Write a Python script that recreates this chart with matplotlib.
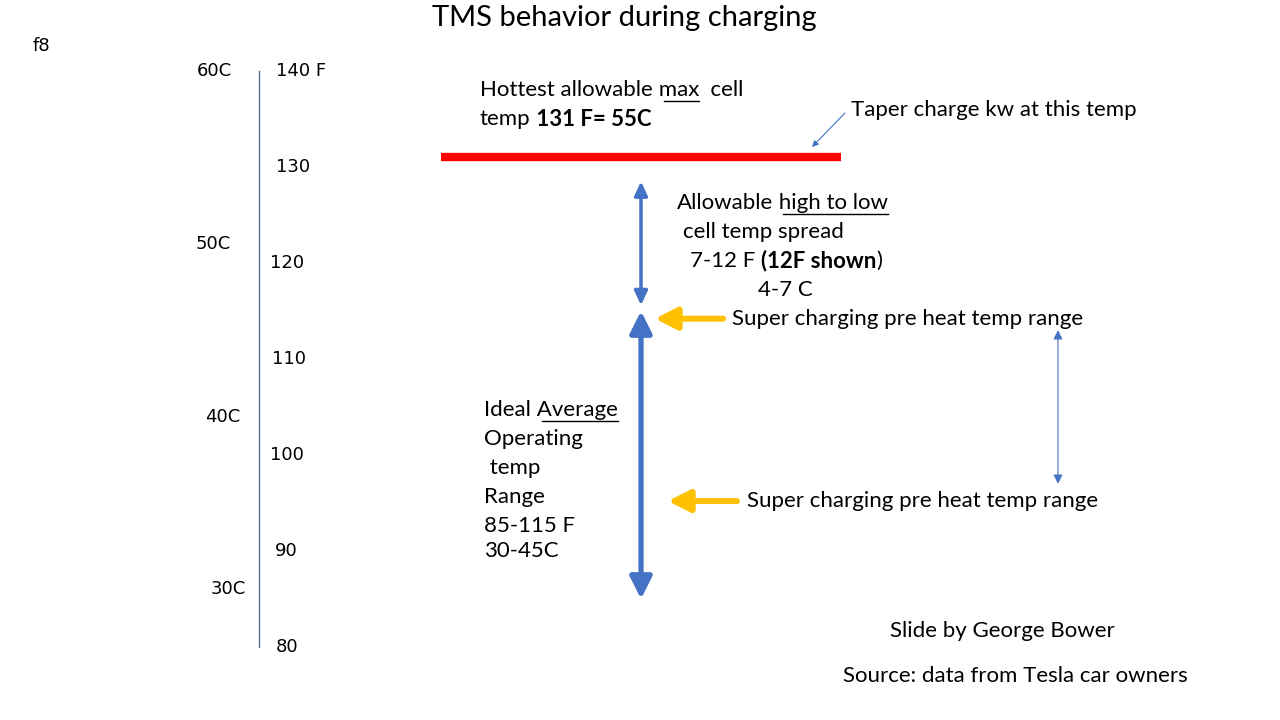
import matplotlib.pyplot as plt

plt.rcParams['font.family'] = ['Lato', 'DejaVu Sans']

# temperature scale (deg F) with Celsius marks
f_ticks = [140, 130, 120, 110, 100, 90, 80]
f_labels = ['140 F', '130', '120', '110', '100', '90', '80']
c_ticks = [60, 50, 40, 30]
c_labels = ['60C', '50C', '40C', '30C']

max_cell_temp = 131          # F, taper charge here
spread_range = [115.6, 128.5]  # allowable high-low spread (12F shown)
ideal_range = [85, 115]      # ideal average operating temp
preheat_marks = [114.2, 95.2]  # super charging pre heat arrows
preheat_span = [113, 97]


def c_to_f(c):
    return c * 9 / 5 + 32


# pixel <-> F mapping (9.6 px per deg F, 80F at 647 px)
px_per_f = 9.6
y_top = 80 + 647 / px_per_f
y_bot = 80 - (720 - 647) / px_per_f


def ty(px):
    return 80 + (647 - px) / px_per_f


fig = plt.figure(figsize=(12.8, 7.2), dpi=100)
ax = fig.add_axes([0, 0, 1, 1])
ax.set_xlim(0, 1280)
ax.set_ylim(y_bot, y_top)
ax.axis('off')
renderer = fig.canvas.get_renderer()

fs = 16


def run(x, ypx, parts):
    # parts: (text, bold, underline) placed one after another
    for s, bold, under in parts:
        t = ax.text(x, ty(ypx), s, fontsize=fs, va='center',
                    fontweight='bold' if bold else 'normal')
        w = t.get_window_extent(renderer).width
        if under:
            lead = len(s) - len(s.lstrip())
            x0 = x + (w * lead / len(s) if lead else 0)
            ax.plot([x0, x + w], [ty(ypx + 11), ty(ypx + 11)], color='black', lw=1)
        x += w


ax.text(624, ty(18), 'TMS behavior during charging', fontsize=21, ha='center', va='center')
ax.text(33, ty(46), 'f8', fontsize=13, va='center', family='DejaVu Sans')

# vertical scale
ax.plot([259, 259], [80, 140], color='#4f7394', lw=1)
f_x = [276, 276, 270, 272, 270, 275, 276]
for t, lab, x in zip(f_ticks, f_labels, f_x):
    ax.text(x, t, lab, fontsize=13, va='center', family='DejaVu Sans')
c_x = [197, 196, 205, 211]
for c, lab, x in zip(c_ticks, c_labels, c_x):
    ax.text(x, c_to_f(c), lab, fontsize=13, va='center', family='DejaVu Sans')

# max cell temp line
ax.plot([441, 841], [max_cell_temp, max_cell_temp], color='#FF0000', lw=6, solid_capstyle='butt')
run(480, 90, [('Hottest allowable', False, False), (' max', False, True), ('  cell', False, False)])
run(480, 119, [('temp', False, False), (' 131 F= 55C', True, False)])

ax.text(851, ty(110), 'Taper charge kw at this temp', fontsize=fs, va='center')
ax.annotate('', xy=(812, ty(147)), xytext=(845, ty(113)),
            arrowprops=dict(arrowstyle='-|>', color='#4472C4', lw=0.8,
                            mutation_scale=9, shrinkA=0, shrinkB=0))

# spread arrow
ax.annotate('', xy=(641, spread_range[1]), xytext=(641, spread_range[0]),
            arrowprops=dict(arrowstyle='<|-|>,head_length=0.6,head_width=0.28', color='#4472C4',
                            lw=2.5, mutation_scale=14, shrinkA=0, shrinkB=0))
run(677, 203, [('Allowable', False, False), (' high to low', False, True)])
run(683, 232, [('cell temp spread', False, False)])
run(690, 261, [('7-12 F ', False, False), ('(12F shown', True, False), (')', False, False)])
run(758, 290, [('4-7 C', False, False)])

# ideal operating range arrow
ax.annotate('', xy=(641, ideal_range[1]), xytext=(641, ideal_range[0]),
            arrowprops=dict(arrowstyle='<|-|>,head_length=0.6,head_width=0.3', color='#4472C4',
                            lw=3.8, mutation_scale=22, shrinkA=0, shrinkB=0))
ideal_lines = ['Operating', ' temp', 'Range', '85-115 F', '30-45C']
ideal_y = [439, 468, 497, 526, 551]
run(484, 410, [('Ideal', False, False), (' Average', False, True)])
for s, y in zip(ideal_lines, ideal_y):
    ax.text(484, ty(y), s, fontsize=fs, va='center')

# pre heat arrows
for t, tip, tail, tx in zip(preheat_marks, [655, 668], [723, 737], [732, 747]):
    ax.annotate('', xy=(tip, t), xytext=(tail, t),
                arrowprops=dict(arrowstyle='-|>,head_length=0.65,head_width=0.33', color='#FFC000',
                                lw=4.3, mutation_scale=20, shrinkA=0, shrinkB=0))
    ax.text(tx, t, 'Super charging pre heat temp range', fontsize=fs, va='center')

ax.annotate('', xy=(1058, preheat_span[0]), xytext=(1058, preheat_span[1]),
            arrowprops=dict(arrowstyle='<|-|>,head_length=0.6,head_width=0.3', color='#4472C4',
                            lw=0.8, mutation_scale=9, shrinkA=0, shrinkB=0))

ax.text(890, ty(631), 'Slide by George Bower', fontsize=fs, va='center')
ax.text(843, ty(676), 'Source: data from Tesla car owners', fontsize=fs, va='center')

fig.savefig('out.png', dpi=100)
